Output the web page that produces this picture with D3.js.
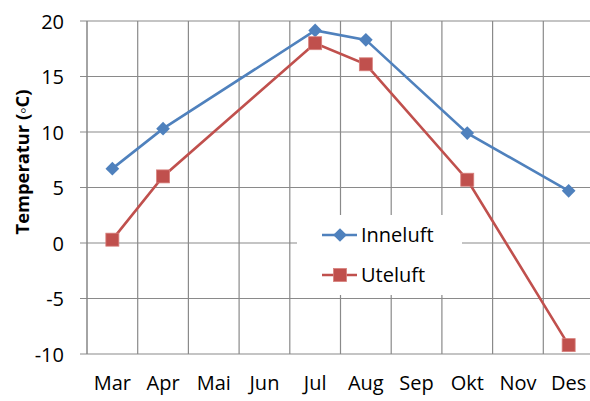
<!DOCTYPE html>
<html><head><meta charset="utf-8">
<script src="https://cdn.jsdelivr.net/npm/d3@7"></script>
<style>body{margin:0;background:#fff}svg{display:block}text{font-family:"Open Sans",sans-serif}</style>
</head><body><svg id="c" width="590" height="401"></svg>
<script>
const months = ["Mar","Apr","Mai","Jun","Jul","Aug","Sep","Okt","Nov","Des"];
const inneluft = [6.7,10.3,null,null,19.15,18.3,null,9.9,null,4.7];
const uteluft  = [0.3,6.0,null,null,18.0,16.1,null,5.7,null,-9.2];
const yTicks = [-10,-5,0,5,10,15,20];
const seriesNames = ["Inneluft","Uteluft"];
const colors = ["#4F81BD","#C0504D"];

const svg = d3.select("#c");
const L = 87, R = 594, T = 21, B = 354;
const x = d3.scaleBand().domain(months).range([L, R]).padding(0);
const y = d3.scaleLinear().domain([-10, 20]).range([B, T]);
const grid = "#8a8a8a";

svg.append("g").selectAll("line").data(yTicks).join("line")
  .attr("x1", L - 7).attr("x2", R).attr("y1", d => y(d)).attr("y2", d => y(d))
  .attr("stroke", grid).attr("stroke-width", 1.2);
svg.append("g").selectAll("line").data(months.slice(1)).join("line")
  .attr("x1", d => x(d)).attr("x2", d => x(d)).attr("y1", T).attr("y2", B)
  .attr("stroke", grid).attr("stroke-width", 1.2);
svg.append("line").attr("x1", L).attr("x2", L).attr("y1", T).attr("y2", B)
  .attr("stroke", "#868686").attr("stroke-width", 1.5);

const yAxis = d3.axisLeft(y).tickValues(yTicks).tickSize(0).tickPadding(0).tickFormat(d => String(d));
const gy = svg.append("g").attr("transform", `translate(${L - 23},0)`).call(yAxis);
gy.select(".domain").remove();
gy.selectAll("text").attr("font-size", 20).attr("fill", "#000").attr("font-family", "Open Sans").attr("dy", "0.35em");

const xAxis = d3.axisBottom(x).tickSize(0).tickPadding(0);
const gx = svg.append("g").attr("transform", `translate(0,${B + 22})`).call(xAxis);
gx.select(".domain").remove();
gx.selectAll("text").attr("font-size", 20).attr("fill", "#000").attr("font-family", "Open Sans").attr("dy", "0.71em");

const title = svg.append("text").attr("transform", `translate(29,162) rotate(-90)`)
  .attr("text-anchor", "middle").attr("font-size", 18).attr("font-weight", "bold")
  .attr("font-family", "Open Sans").attr("fill", "#000")
  .text("Temperatur (\u25E6C)");
const tl = title.node().getComputedTextLength();
if (tl > 0) title.attr("font-size", 18 * 145 / tl);

const cx = m => x(m) + x.bandwidth() / 2;
const line = d3.line().x(d => cx(d.m)).y(d => y(d.v));
const diamond = d3.symbol().type(d3.symbolDiamond2).size(120);

[inneluft, uteluft].forEach((vals, si) => {
  const pts = months.map((m, i) => ({m, v: vals[i]})).filter(d => d.v !== null);
  svg.append("path").datum(pts).attr("d", line).attr("fill", "none")
    .attr("stroke", colors[si]).attr("stroke-width", 2.6);
  const g = svg.append("g");
  if (si === 0) {
    g.selectAll("path").data(pts).join("path")
      .attr("d", diamond).attr("transform", d => `translate(${cx(d.m)},${y(d.v)})`)
      .attr("fill", colors[0]);
  } else {
    g.selectAll("rect").data(pts).join("rect")
      .attr("x", d => cx(d.m) - 6.5).attr("y", d => y(d.v) - 6.5).attr("width", 13).attr("height", 13)
      .attr("fill", colors[1]).attr("stroke", "#d7807d").attr("stroke-width", 0.8);
  }
});

const lg = svg.append("g");
lg.append("rect").attr("x", 297).attr("y", 215).attr("width", 165).attr("height", 80).attr("fill", "#fff");
seriesNames.forEach((n, i) => {
  const yy = 235 + i * 40;
  lg.append("line").attr("x1", 322).attr("x2", 357).attr("y1", yy).attr("y2", yy)
    .attr("stroke", colors[i]).attr("stroke-width", 2.6);
  if (i === 0) lg.append("path").attr("d", diamond).attr("transform", `translate(340,${yy})`).attr("fill", colors[0]);
  else lg.append("rect").attr("x", 333.5).attr("y", yy - 6.5).attr("width", 13).attr("height", 13)
    .attr("fill", colors[1]).attr("stroke", "#d7807d").attr("stroke-width", 0.8);
  lg.append("text").attr("x", 361).attr("y", yy).attr("dy", "0.35em").attr("font-size", 20).text(n);
});
</script></body></html>
